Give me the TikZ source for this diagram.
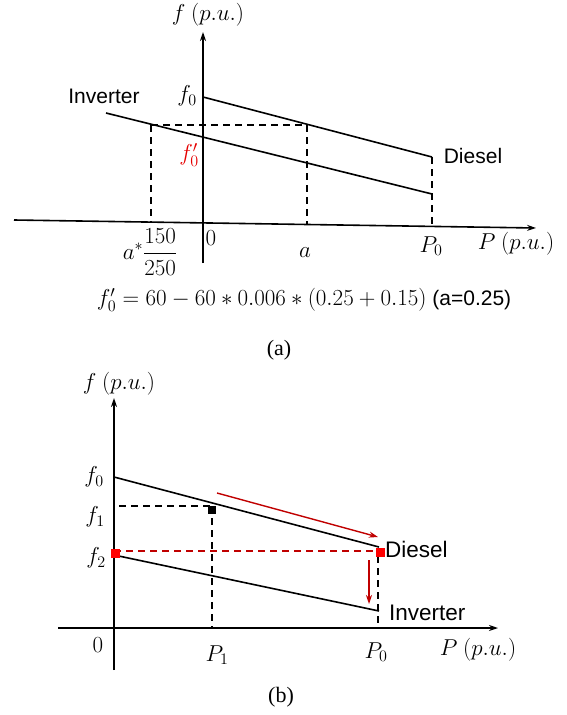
\RequirePackage{fix-cm}
\documentclass[tikz,border=0pt]{standalone}
\usepackage{amsmath}
\usepackage{fontspec}
\setmainfont{Liberation Serif}
\setsansfont{Liberation Sans}
\usetikzlibrary{arrows.meta}
\definecolor{darkred}{RGB}{192,0,0}
\definecolor{brightred}{RGB}{255,0,0}
\tikzset{
  axis/.style={line width=1.6pt,-{Stealth[length=9pt,width=6pt]}},
  droop/.style={line width=1.6pt},
  guide/.style={line width=1.4pt,dash pattern=on 7pt off 5pt},
  redguide/.style={line width=1.4pt,dash pattern=on 7pt off 5pt,darkred},
  redarrow/.style={line width=1.4pt,darkred,-{Stealth[length=9pt,width=6pt]}},
  lbl/.style={font=\fontsize{23}{27}\selectfont,inner sep=0pt},
  sans/.style={font=\sffamily\fontsize{21}{25}\selectfont,inner sep=0pt},
  sansb/.style={font=\sffamily\fontsize{22.5}{26}\selectfont,inner sep=0pt},
  capt/.style={font=\fontsize{22}{26}\selectfont,inner sep=0pt},
  sq/.style={minimum size=9pt,inner sep=0pt,fill=brightred},
  bsq/.style={minimum size=8pt,inner sep=0pt,fill=black}
}
\begin{document}
\begin{tikzpicture}[x=1pt,y=-1pt]
\useasboundingbox (0,0) rectangle (567,715);
% ================= (a) =================
\coordinate (ayb) at (203,263);
\coordinate (ayt) at (203,32);
\coordinate (axl) at (14,220);
\coordinate (axr) at (536,228);
\draw[axis] (ayb) -- (ayt);
\draw[axis] (axl) -- (axr);
\coordinate (ad1) at (203,97);
\coordinate (ad2) at (432,157);
\coordinate (ai1) at (106,113);
\coordinate (ai2) at (432,194);
\draw[droop] (ad1) -- (ad2);
\draw[droop] (ai1) -- (ai2);
\coordinate (aL) at (151,125);
\coordinate (aR) at (307,125);
\coordinate (aLb) at (151,222);
\coordinate (aRb) at (307,225);
\coordinate (aPb) at (432,226);
\draw[guide] (aL) -- (aR);
\draw[guide] (aL) -- (aLb);
\draw[guide] (aR) -- (aRb);
\draw[guide] (ad2) -- (aPb);
\node[lbl] (aflab) at (208,15) {$f\ (p.u.)$};
\node[lbl] (af0) at (187,96) {$f_0$};
\node[lbl,text=brightred!90!black] (af0p) at (189,155) {$f_0'$};
\node[sans] (ainv) at (104,96) {Inverter};
\node[sans] (adie) at (473,156) {Diesel};
\node[lbl] (azero) at (211,238) {$0$};
\node[lbl] (aastar) at (150,252) {$a^{*}\dfrac{150}{250}$};
\node[lbl] (aa) at (305,253) {$a$};
\node[lbl] (aP0) at (431,246) {$P_0$};
\node[lbl] (aPlab) at (516,244) {$P\ (p.u.)$};
\node[lbl] (aform) at (304,300) {$f_0' = 60 - 60 \ast 0.006 \ast (0.25 + 0.15)$ {\sffamily\fontsize{21}{25}\selectfont (a=0.25)}};
\node[capt] (acap) at (279,350) {(a)};
% ================= (b) =================
\coordinate (byb) at (114,670);
\coordinate (byt) at (114,398);
\coordinate (bxl) at (58,628);
\coordinate (bxr) at (498,628);
\draw[axis] (byb) -- (byt);
\draw[axis] (bxl) -- (bxr);
\coordinate (bd1) at (114,477);
\coordinate (bd2) at (379,547);
\coordinate (bi1) at (114,555);
\coordinate (bi2) at (379,611);
\draw[droop] (bd1) -- (bd2);
\draw[droop] (bi1) -- (bi2);
\coordinate (bf1) at (119,506);
\coordinate (bp1) at (212,506);
\coordinate (bp1b) at (212,628);
\draw[guide] (bf1) -- (bp1);
\draw[guide] (bp1) -- (bp1b);
\coordinate (bf2) at (114,551);
\coordinate (bp0) at (378,551);
\coordinate (bp0t) at (378,556);
\coordinate (bp0b) at (378,628);
\draw[redguide] (bf2) -- (bp0);
\draw[guide] (bp0t) -- (bp0b);
\node[bsq] (bsqk) at (212,510) {};
\node[sq] (bsqa) at (115,553) {};
\node[sq] (bsqb) at (380,552) {};
\coordinate (bar1) at (217,493);
\coordinate (bar2) at (378,537);
\draw[redarrow] (bar1) -- (bar2);
\coordinate (bar3) at (369,560);
\coordinate (bar4) at (369,604);
\draw[redarrow] (bar3) -- (bar4);
\node[lbl] (bflab) at (119,384) {$f\ (p.u.)$};
\node[lbl] (bf0) at (94,477) {$f_0$};
\node[lbl] (bf1l) at (95,517) {$f_1$};
\node[lbl] (bf2l) at (96,558) {$f_2$};
\node[sansb,anchor=west] (bdie) at (385,549) {Diesel};
\node[sansb,anchor=west] (binv) at (389,613) {Inverter};
\node[lbl] (bzero) at (98,645) {$0$};
\node[lbl] (bP1) at (217,655) {$P_1$};
\node[lbl] (bP0) at (376,652) {$P_0$};
\node[lbl] (bPlab) at (478,650) {$P\ (p.u.)$};
\node[capt] (bcap) at (281,697) {(b)};
\end{tikzpicture}
\end{document}
